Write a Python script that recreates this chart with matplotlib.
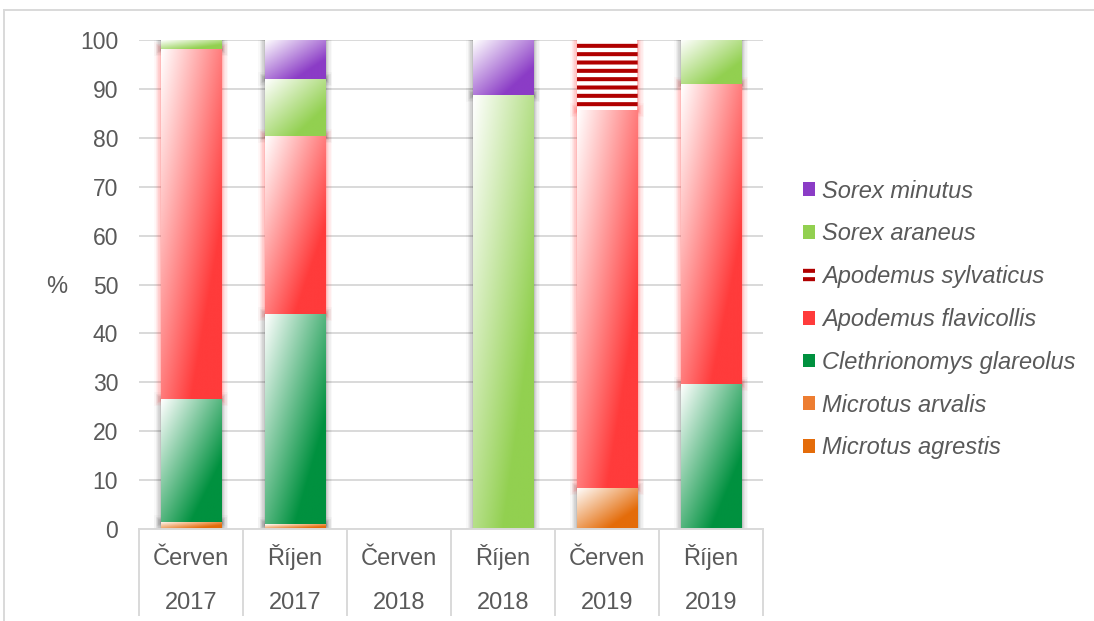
import numpy as np
import matplotlib
matplotlib.use("Agg")
import matplotlib.pyplot as plt
import matplotlib.patches as mpatches
import matplotlib.patheffects as pe
from matplotlib.lines import Line2D

plt.rcParams["font.family"] = ["Liberation Sans", "DejaVu Sans"]
plt.rcParams["hatch.linewidth"] = 2.9

# ---- data -------------------------------------------------------------
months = ["Červen", "Říjen", "Červen", "Říjen", "Červen", "Říjen"]
years = ["2017", "2017", "2018", "2018", "2019", "2019"]

microtus_agrestis = [1.5, 1.0, 0.0, 0.0, 8.4, 0.0]
microtus_arvalis = [0.0, 0.0, 0.0, 0.0, 0.0, 0.0]
clethrionomys_glareolus = [25.1, 43.0, 0.0, 0.0, 0.0, 29.7]
apodemus_flavicollis = [71.6, 36.4, 0.0, 0.0, 77.3, 61.3]
apodemus_sylvaticus = [0.0, 0.0, 0.0, 0.0, 14.3, 0.0]
sorex_araneus = [1.8, 11.6, 0.0, 88.8, 0.0, 9.0]
sorex_minutus = [0.0, 8.0, 0.0, 11.2, 0.0, 0.0]

y_ticks = [0, 10, 20, 30, 40, 50, 60, 70, 80, 90, 100]

# stacking order, bottom to top
series = [
    ("Microtus agrestis", microtus_agrestis, "#E46C0A", "gradient"),
    ("Microtus arvalis", microtus_arvalis, "#ED7D31", "flat"),
    ("Clethrionomys glareolus", clethrionomys_glareolus, "#00913F", "gradient"),
    ("Apodemus flavicollis", apodemus_flavicollis, "#FF3B3B", "gradient"),
    ("Apodemus sylvaticus", apodemus_sylvaticus, "#B00000", "stripes"),
    ("Sorex araneus", sorex_araneus, "#92D050", "gradient"),
    ("Sorex minutus", sorex_minutus, "#8B3CC6", "gradient"),
]

TEXT = "#595959"
GRID = "#D9D9D9"
FS = 17

fig = plt.figure(figsize=(10.94, 6.21), dpi=100)
ax = fig.add_axes([139 / 1094, 1 - 529 / 621, 624 / 1094, 489 / 621])

x = np.arange(len(months))
bottom = np.zeros(len(months))


def glow(color, strength=1.0):
    steps = [(10, 0.025), (8, 0.035), (6, 0.05), (4, 0.07), (2, 0.08)]
    return [pe.Stroke(linewidth=w, foreground=color, alpha=a * strength)
            for w, a in steps] + [pe.Normal()]


def gradient_image(color, n=80):
    rgb = np.array(matplotlib.colors.to_rgb(color))
    u = np.linspace(0, 1, n)[None, :]
    v = np.linspace(0, 1, n)[:, None]
    t = np.clip(((u + v) / 2) / 0.75, 0, 1)[..., None]
    return (1 - t) * np.ones(3) + t * rgb


legend_handles = []
for name, vals, color, style in series:
    vals = np.asarray(vals, dtype=float)
    if style == "stripes":
        bars = ax.bar(x, vals, bottom=bottom, width=0.58, facecolor="white",
                      edgecolor=color, hatch="--", linewidth=0, zorder=2)
        shade = "#FF3B3B"
    else:
        bars = ax.bar(x, vals, bottom=bottom, width=0.58, color=color,
                      linewidth=0, zorder=2)
        shade = "#FF3B3B" if name == "Apodemus flavicollis" else "#000000"
    for p, v in zip(bars.patches, vals):
        if v <= 0:
            p.set_visible(False)
            continue
        p.set_path_effects(glow(shade, 1.6 if shade != "#000000" else 1.0))
        if style == "gradient":
            x0, w = p.get_x(), p.get_width()
            y0, h = p.get_y(), p.get_height()
            im = ax.imshow(gradient_image(color), extent=(x0, x0 + w, y0, y0 + h),
                           origin="upper", aspect="auto", interpolation="bilinear",
                           zorder=2.5)
            im.set_clip_path(p)
    bottom += vals
    if style == "stripes":
        h = mpatches.Patch(facecolor="white", edgecolor=color, hatch="--",
                           linewidth=0, label=name)
    else:
        h = mpatches.Patch(facecolor=color, linewidth=0, label=name)
    legend_handles.append(h)

# axes styling
ax.set_xlim(-0.5, len(months) - 0.5)
ax.set_ylim(0, 100)
ax.set_yticks(y_ticks)
ax.set_xticks([])
ax.tick_params(axis="y", length=0, pad=15, labelsize=16.5, labelcolor=TEXT)
ax.yaxis.grid(True, color=GRID, linewidth=1.4)
ax.set_axisbelow(True)
for s in ["top", "right", "left"]:
    ax.spines[s].set_visible(False)
ax.spines["bottom"].set_color(GRID)
ax.spines["bottom"].set_linewidth(1.4)

# two-level category labels with separators
xt = ax.get_xaxis_transform()
for i, (m, yr) in enumerate(zip(months, years)):
    ax.text(i, -0.0746, m, transform=xt, ha="center", va="baseline",
            fontsize=FS, color=TEXT)
    ax.text(i, -0.1636, yr, transform=xt, ha="center", va="baseline",
            fontsize=FS, color=TEXT)
for b in np.arange(len(months) + 1) - 0.5:
    ax.add_line(Line2D([b, b], [0, -0.176], transform=xt, color=GRID,
                       linewidth=1.4, clip_on=False))

fig.text(57 / 1094, 1 - 287 / 621, "%", ha="center", va="center",
         fontsize=FS, color=TEXT)

leg = fig.legend(handles=legend_handles[::-1], loc="center left",
                 bbox_to_anchor=(803 / 1094, 1 - 319.5 / 621),
                 bbox_transform=fig.transFigure, frameon=False,
                 borderaxespad=0, borderpad=0, handlelength=0.52,
                 handleheight=0.52, handletextpad=0.28, labelspacing=0.84,
                 prop={"size": FS, "style": "italic"})
for t in leg.get_texts():
    t.set_color(TEXT)

# chart-area border
fig.add_artist(Line2D([4 / 1094, 1], [1 - 10 / 621] * 2, color=GRID,
                      linewidth=1.4, transform=fig.transFigure))
fig.add_artist(Line2D([4 / 1094] * 2, [0, 1 - 10 / 621], color=GRID,
                      linewidth=1.4, transform=fig.transFigure))

fig.savefig("out.png", dpi=100)
